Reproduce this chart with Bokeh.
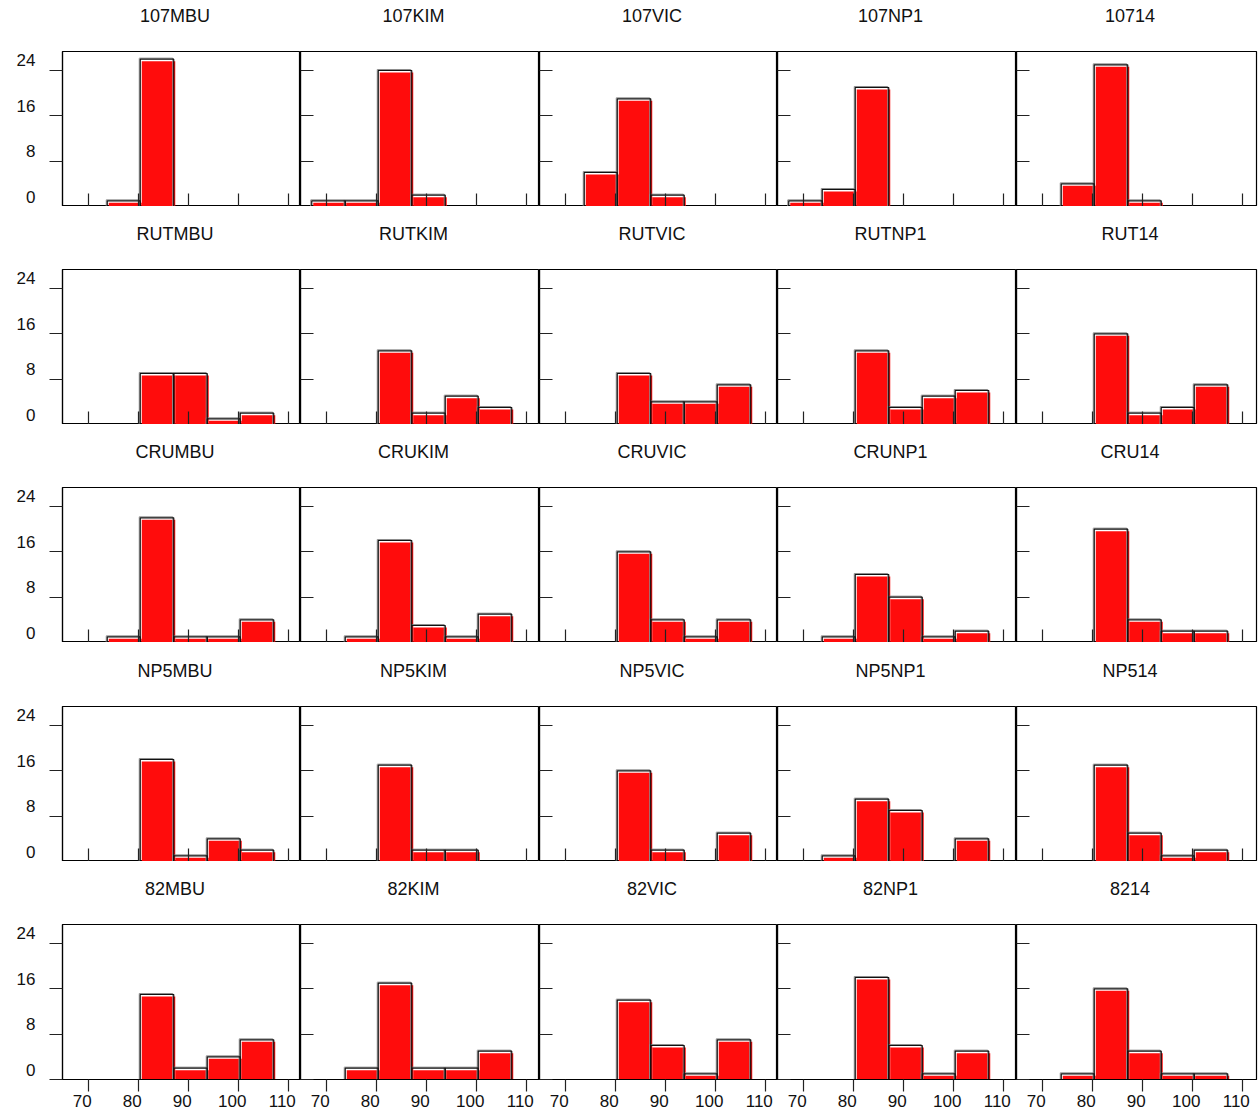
from bokeh.plotting import figure
from bokeh.layouts import gridplot
from bokeh.models import (FixedTicker, ColumnDataSource, LinearAxis, Title,
                          CustomLabelingPolicy)
from bokeh.transform import dodge
from bokeh.embed import file_html
from bokeh.resources import INLINE

# Row (sample) and column (site) codes; panel title = row code + column code
row_codes = ["107", "RUT", "CRU", "NP5", "82"]
col_codes = ["MBU", "KIM", "VIC", "NP1", "14"]

# Shared histogram bin edges
bin_edges = [67.1, 73.8, 80.4, 87.1, 93.8, 100.4, 107.1]

# Counts per bin, one list per panel (columns in col_codes order)
counts_107 = [[0, 1, 26, 0, 0, 0], [1, 1, 24, 2, 0, 0], [0, 6, 19, 2, 0, 0],
              [1, 3, 21, 0, 0, 0], [0, 4, 25, 1, 0, 0]]
counts_RUT = [[0, 0, 9, 9, 1, 2], [0, 0, 13, 2, 5, 3], [0, 0, 9, 4, 4, 7],
              [0, 0, 13, 3, 5, 6], [0, 0, 16, 2, 3, 7]]
counts_CRU = [[0, 1, 22, 1, 1, 4], [0, 1, 18, 3, 1, 5], [0, 0, 16, 4, 1, 4],
              [0, 1, 12, 8, 1, 2], [0, 0, 20, 4, 2, 2]]
counts_NP5 = [[0, 0, 18, 1, 4, 2], [0, 0, 17, 2, 2, 0], [0, 0, 16, 2, 0, 5],
              [0, 1, 11, 9, 0, 4], [0, 0, 17, 5, 1, 2]]
counts_82 = [[0, 0, 15, 2, 4, 7], [0, 2, 17, 2, 2, 5], [0, 0, 14, 6, 1, 7],
             [0, 0, 18, 6, 1, 5], [0, 1, 16, 5, 1, 1]]

x_ticks = [70, 80, 90, 100, 110]
y_ticks = [0, 8, 16, 24]

all_counts = [counts_107, counts_RUT, counts_CRU, counts_NP5, counts_82]

# Layout constants
FONT = "Liberation Sans"
TITLE_PX = 18
X_START = 64.85
PX_PER_X = 5.0
Y_MAX = 27.35
FRAME_H = 155
PX_PER_Y = FRAME_H / Y_MAX
col_widths = [238, 239, 238, 239, 240]
top_borders = [51, 63, 63, 64, 63]
TITLE_GAP = 26          # empty band between a panel title and its frame

RED = "#ff0c0c"
INK = "#111111"

# tick labels sit a little above / left of their tick marks
Y_LABEL_LIFT = 10 / PX_PER_Y
X_LABEL_SHIFT = 6 / PX_PER_X

# advance widths (1/1000 em) of the sans-serif title characters
ADVANCE = {"M": 833, "B": 667, "U": 722, "K": 667, "I": 278, "V": 667,
           "C": 722, "N": 722, "P": 667, "R": 722, "T": 611}


def text_width(s, size):
    return sum(ADVANCE.get(ch, 556) for ch in s) * size / 1000


hide_labels = CustomLabelingPolicy(
    code="for (const i of indices) indices.unset(i); return indices")


def style_axis(ax):
    ax.axis_line_color = "black"
    ax.axis_line_width = 1.2
    ax.major_tick_line_color = "#222222"
    ax.major_tick_line_width = 1.2
    ax.minor_tick_line_color = None
    ax.major_label_text_font = FONT
    ax.major_label_text_color = INK


def label_axis(ticks, shift, **kw):
    pos = [t + shift for t in ticks]
    return LinearAxis(ticker=FixedTicker(ticks=pos),
                      major_label_overrides={p: str(t) for p, t in zip(pos, ticks)},
                      major_tick_in=0, major_tick_out=0, axis_line_color=None,
                      minor_tick_line_color=None, major_label_text_font=FONT,
                      major_label_text_font_size="17px", major_label_text_color=INK,
                      **kw)


rows = []
for r, (rcode, row_counts) in enumerate(zip(row_codes, all_counts)):
    fig_row = []
    for c, (ccode, counts) in enumerate(zip(col_codes, row_counts)):
        w = col_widths[c]
        name = rcode + ccode
        p = figure(
            frame_width=w, frame_height=FRAME_H,
            x_range=(X_START, X_START + w / PX_PER_X), y_range=(0, Y_MAX),
            output_backend="svg", toolbar_location=None, title_location=None,
            min_border_left=62 if c == 0 else 0,
            min_border_right=2 if c == 4 else 0,
            min_border_top=top_borders[r],
            min_border_bottom=35 if r == 4 else 0,
        )
        p.background_fill_color = "white"
        p.border_fill_color = "white"
        p.outline_line_color = "black"
        p.outline_line_width = 1.2
        p.xgrid.visible = False
        p.ygrid.visible = False

        xa = p.below[0]
        ya = p.left[0]

        # blank band between the frame and the panel title
        gap = TITLE_GAP + (4 if name.isdigit() else 0)
        p.add_layout(LinearAxis(ticker=FixedTicker(ticks=[90]), axis_line_color=None,
                                major_tick_in=0, major_tick_out=gap,
                                major_tick_line_alpha=0, minor_tick_out=0,
                                minor_tick_line_color=None, major_label_standoff=0,
                                major_label_policy=hide_labels,
                                major_label_text_font_size="0px"),
                     "above")
        # panel title, centred a touch left of the frame centre
        p.add_layout(Title(text=name, align="left",
                           offset=(w - text_width(name, TITLE_PX)) / 2 - 6.5,
                           standoff=0, text_font=FONT,
                           text_font_size=f"{TITLE_PX}px", text_font_style="normal",
                           text_color=INK), "above")

        # bars with non-zero counts
        left, right, top = [], [], []
        for i, n in enumerate(counts):
            if n > 0:
                left.append(bin_edges[i])
                right.append(bin_edges[i + 1])
                top.append(n)
        src = ColumnDataSource(dict(left=left, right=right, top=top))

        dx = 1.5 / PX_PER_X
        dy = 2.0 / PX_PER_Y
        gx = 1.0 / PX_PER_X
        gy = 1.0 / PX_PER_Y
        # red body, slightly displaced from its outline
        p.quad(left=dodge("left", dx), right=dodge("right", dx),
               top=dodge("top", -dy), bottom=-dy,
               source=src, fill_color=RED, line_color=None)
        # soft grey edge and crisp black outline
        p.quad(left=dodge("left", -gx), right=dodge("right", -gx),
               top=dodge("top", gy), bottom=0, source=src,
               fill_color=None, line_color="#8c8c8c", line_width=1)
        p.quad(left="left", right="right", top="top", bottom=0, source=src,
               fill_color=None, line_color=INK, line_width=1.2)

        xa.ticker = FixedTicker(ticks=x_ticks)
        ya.ticker = FixedTicker(ticks=y_ticks)
        for ax in (xa, ya):
            style_axis(ax)
            ax.major_label_policy = hide_labels
            ax.major_label_text_font_size = "0px"
            ax.major_label_standoff = 0

        if r == 4:
            xa.major_tick_out = 12
            xa.major_tick_in = 0
            p.add_layout(label_axis(x_ticks, -X_LABEL_SHIFT,
                                    major_label_standoff=3), "below")
        else:
            xa.major_tick_out = 0
            xa.major_tick_in = 13

        if c == 0:
            ya.major_tick_out = 13
            ya.major_tick_in = 0
            p.add_layout(label_axis(y_ticks, Y_LABEL_LIFT,
                                    major_label_standoff=14), "left")
        else:
            ya.major_tick_out = 0
            ya.major_tick_in = 13

        fig_row.append(p)
    rows.append(fig_row)

grid = gridplot(rows, toolbar_location=None)

with open("out.html", "w") as f:
    f.write(file_html(grid, INLINE))
